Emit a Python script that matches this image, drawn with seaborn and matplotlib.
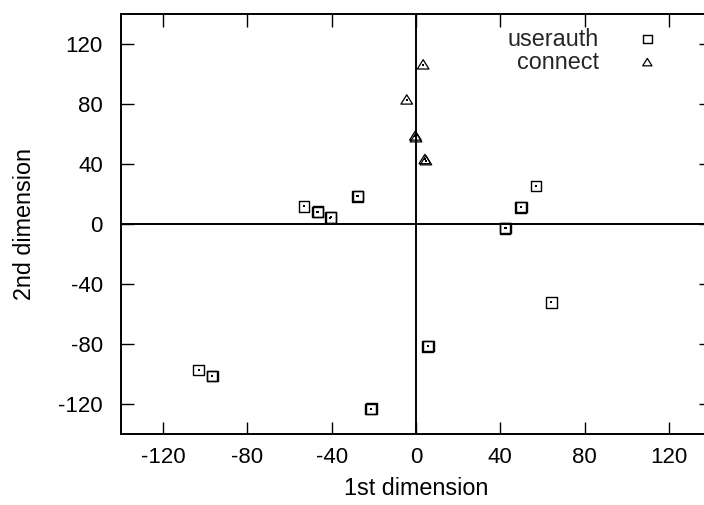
import numpy as np
import pandas as pd
import matplotlib
matplotlib.use("Agg")
import matplotlib.pyplot as plt
from matplotlib.path import Path
import seaborn as sns

# ---- data ----
userauth_x = [-53.2, -46.8, -46.5, -40.6, -40.3, -27.8, -27.5, 42.3, 42.6,
              49.7, 50.0, 57.0, 64.2, 5.5, 5.8, -103.2, -96.9, -96.6, -21.5, -21.2]
userauth_y = [11.5, 7.7, 7.9, 3.9, 4.1, 18.1, 18.3, -3.2, -3.0,
              10.8, 11.0, 25.0, -52.5, -81.9, -81.7, -97.8, -101.8, -101.6, -123.7, -123.5]
connect_x = [3.4, -4.4, 0.0, -0.3, 4.2, 4.7]
connect_y = [105.9, 82.5, 57.3, 58.5, 42.8, 42.0]

xticks = [-120, -80, -40, 0, 40, 80, 120]
yticks = [-120, -80, -40, 0, 40, 80, 120]
xlabel = "1st dimension"
ylabel = "2nd dimension"

df_u = pd.DataFrame({"x": userauth_x, "y": userauth_y, "series": "userauth"})
df_c = pd.DataFrame({"x": connect_x, "y": connect_y, "series": "connect"})

sns.set_style("ticks")
plt.rcParams["font.family"] = ["Liberation Sans", "DejaVu Sans"]
FS = 16

fig = plt.figure(figsize=(7.04, 5.06), dpi=100)
W, H = 704, 506
left, right, top, bottom = 121, 711, 14.5, 434.5
ax = fig.add_axes([left / W, 1 - bottom / H, (right - left) / W, (bottom - top) / H])

tri = Path([(-1.0, -0.75), (1.0, -0.75), (0.0, 0.85), (-1.0, -0.75)],
           [Path.MOVETO, Path.LINETO, Path.LINETO, Path.CLOSEPOLY])

ax.axhline(0, color="black", lw=1.4, zorder=1)
ax.axvline(0, color="black", lw=1.4, zorder=1)

sns.scatterplot(data=df_u, x="x", y="y", marker="s", s=58, facecolors="none",
                edgecolor="black", linewidth=1.0, ax=ax, label="userauth", zorder=3)
sns.scatterplot(data=df_c, x="x", y="y", marker=tri, s=70, facecolors="none",
                edgecolor="black", linewidth=0.9, ax=ax, label="connect", zorder=3)
# centre dots
df_all = pd.concat([df_u, df_c])
sns.scatterplot(data=df_all, x="x", y="y", marker="s", s=2, color="black",
                linewidth=0, ax=ax, legend=False, zorder=4)

ax.set_xlim(-140, 140)
ax.set_ylim(-140, 140)
ax.set_xticks(xticks)
ax.set_yticks(yticks)
ax.set_xticklabels([str(v) for v in xticks], fontsize=FS)
ax.set_yticklabels([str(v) for v in yticks], fontsize=FS)
ax.tick_params(direction="in", length=9, width=1.0, color="black",
               top=True, right=True, labelcolor="black")
ax.tick_params(axis="y", pad=13)
ax.tick_params(axis="x", pad=9)
for sp in ax.spines.values():
    sp.set_visible(True)
    sp.set_color("black")
    sp.set_linewidth(1.4)

ax.set_xlabel(xlabel, fontsize=16.8, color="black", labelpad=6.5)
ax.set_ylabel(ylabel, fontsize=16.8, color="black")
ax.yaxis.set_label_coords((36 - left) / (right - left), 0.5)

leg = ax.legend(loc="upper right",
                bbox_to_anchor=((659 - left) / (right - left), (bottom - 28) / (bottom - top)),
                frameon=False, markerfirst=False, fontsize=16.8, markerscale=0.8,
                handlelength=1.0, handletextpad=1.58, borderpad=0, borderaxespad=0,
                labelspacing=0.02, scatterpoints=1)

fig.savefig("out.png", dpi=100)
